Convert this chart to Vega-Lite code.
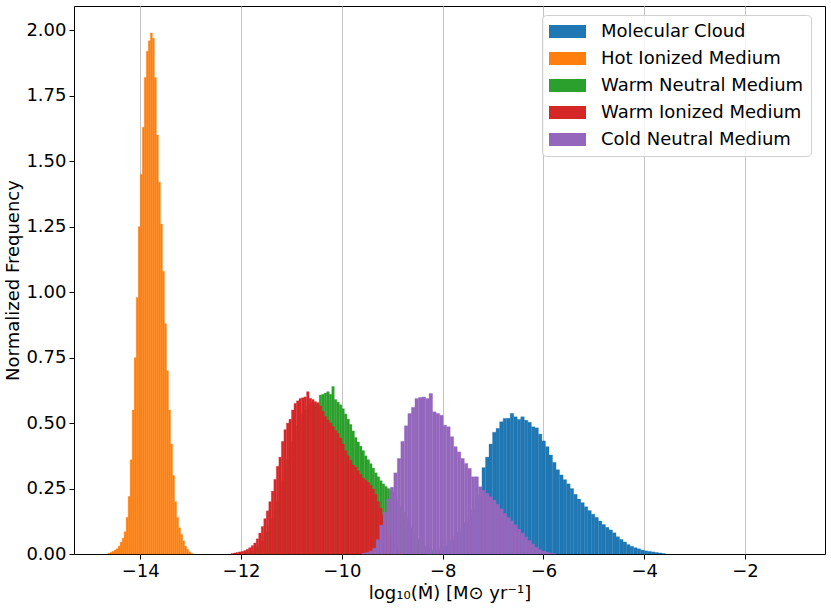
{
  "$schema": "https://vega.github.io/schema/vega-lite/v6.json",
  "width": 751,
  "height": 548,
  "autosize": {"type": "none"},
  "padding": {"left": 74, "top": 6, "right": 6, "bottom": 58},
  "data": {
    "values": [
      {"m":"MC","lo":-8.34,"hi":-8.27,"y":0.003},{"m":"MC","lo":-8.27,"hi":-8.20,"y":0.006},{"m":"MC","lo":-8.20,"hi":-8.13,"y":0.01},{"m":"MC","lo":-8.13,"hi":-8.06,"y":0.015},
      {"m":"MC","lo":-8.06,"hi":-7.99,"y":0.022},{"m":"MC","lo":-7.99,"hi":-7.92,"y":0.03},{"m":"MC","lo":-7.92,"hi":-7.85,"y":0.04},{"m":"MC","lo":-7.85,"hi":-7.78,"y":0.052},
      {"m":"MC","lo":-7.78,"hi":-7.71,"y":0.066},{"m":"MC","lo":-7.71,"hi":-7.64,"y":0.083},{"m":"MC","lo":-7.64,"hi":-7.57,"y":0.1},{"m":"MC","lo":-7.57,"hi":-7.50,"y":0.12},
      {"m":"MC","lo":-7.50,"hi":-7.43,"y":0.145},{"m":"MC","lo":-7.43,"hi":-7.36,"y":0.17},{"m":"MC","lo":-7.36,"hi":-7.29,"y":0.195},{"m":"MC","lo":-7.29,"hi":-7.22,"y":0.225},
      {"m":"MC","lo":-7.22,"hi":-7.15,"y":0.33},{"m":"MC","lo":-7.15,"hi":-7.08,"y":0.37},{"m":"MC","lo":-7.08,"hi":-7.01,"y":0.42},{"m":"MC","lo":-7.01,"hi":-6.94,"y":0.465},
      {"m":"MC","lo":-6.94,"hi":-6.87,"y":0.48},{"m":"MC","lo":-6.87,"hi":-6.80,"y":0.505},{"m":"MC","lo":-6.80,"hi":-6.73,"y":0.518},{"m":"MC","lo":-6.73,"hi":-6.66,"y":0.518},
      {"m":"MC","lo":-6.66,"hi":-6.59,"y":0.537},{"m":"MC","lo":-6.59,"hi":-6.52,"y":0.524},{"m":"MC","lo":-6.52,"hi":-6.45,"y":0.514},{"m":"MC","lo":-6.45,"hi":-6.38,"y":0.524},
      {"m":"MC","lo":-6.38,"hi":-6.31,"y":0.511},{"m":"MC","lo":-6.31,"hi":-6.24,"y":0.503},{"m":"MC","lo":-6.24,"hi":-6.17,"y":0.486},{"m":"MC","lo":-6.17,"hi":-6.10,"y":0.482},
      {"m":"MC","lo":-6.10,"hi":-6.03,"y":0.458},{"m":"MC","lo":-6.03,"hi":-5.96,"y":0.432},{"m":"MC","lo":-5.96,"hi":-5.89,"y":0.41},{"m":"MC","lo":-5.89,"hi":-5.82,"y":0.378},
      {"m":"MC","lo":-5.82,"hi":-5.75,"y":0.35},{"m":"MC","lo":-5.75,"hi":-5.68,"y":0.322},{"m":"MC","lo":-5.68,"hi":-5.61,"y":0.302},{"m":"MC","lo":-5.61,"hi":-5.54,"y":0.284},
      {"m":"MC","lo":-5.54,"hi":-5.47,"y":0.268},{"m":"MC","lo":-5.47,"hi":-5.40,"y":0.25},{"m":"MC","lo":-5.40,"hi":-5.33,"y":0.228},{"m":"MC","lo":-5.33,"hi":-5.26,"y":0.21},
      {"m":"MC","lo":-5.26,"hi":-5.19,"y":0.196},{"m":"MC","lo":-5.19,"hi":-5.12,"y":0.18},{"m":"MC","lo":-5.12,"hi":-5.05,"y":0.166},{"m":"MC","lo":-5.05,"hi":-4.98,"y":0.152},
      {"m":"MC","lo":-4.98,"hi":-4.91,"y":0.14},{"m":"MC","lo":-4.91,"hi":-4.84,"y":0.126},{"m":"MC","lo":-4.84,"hi":-4.77,"y":0.113},{"m":"MC","lo":-4.77,"hi":-4.70,"y":0.102},
      {"m":"MC","lo":-4.70,"hi":-4.63,"y":0.092},{"m":"MC","lo":-4.63,"hi":-4.56,"y":0.081},{"m":"MC","lo":-4.56,"hi":-4.49,"y":0.066},{"m":"MC","lo":-4.49,"hi":-4.42,"y":0.056},
      {"m":"MC","lo":-4.42,"hi":-4.35,"y":0.046},{"m":"MC","lo":-4.35,"hi":-4.28,"y":0.036},{"m":"MC","lo":-4.28,"hi":-4.21,"y":0.029},{"m":"MC","lo":-4.21,"hi":-4.14,"y":0.024},
      {"m":"MC","lo":-4.14,"hi":-4.07,"y":0.02},{"m":"MC","lo":-4.07,"hi":-4.00,"y":0.015},{"m":"MC","lo":-4.00,"hi":-3.93,"y":0.012},{"m":"MC","lo":-3.93,"hi":-3.86,"y":0.01},
      {"m":"MC","lo":-3.86,"hi":-3.79,"y":0.008},{"m":"MC","lo":-3.79,"hi":-3.72,"y":0.006},{"m":"MC","lo":-3.72,"hi":-3.65,"y":0.004},{"m":"MC","lo":-3.65,"hi":-3.58,"y":0.002},

      {"m":"HIM","lo":-14.64,"hi":-14.60,"y":0.003},{"m":"HIM","lo":-14.60,"hi":-14.56,"y":0.006},{"m":"HIM","lo":-14.56,"hi":-14.52,"y":0.01},{"m":"HIM","lo":-14.52,"hi":-14.48,"y":0.015},
      {"m":"HIM","lo":-14.48,"hi":-14.44,"y":0.02},{"m":"HIM","lo":-14.44,"hi":-14.40,"y":0.03},{"m":"HIM","lo":-14.40,"hi":-14.36,"y":0.045},{"m":"HIM","lo":-14.36,"hi":-14.32,"y":0.06},
      {"m":"HIM","lo":-14.32,"hi":-14.28,"y":0.085},{"m":"HIM","lo":-14.28,"hi":-14.24,"y":0.14},{"m":"HIM","lo":-14.24,"hi":-14.20,"y":0.22},{"m":"HIM","lo":-14.20,"hi":-14.16,"y":0.36},
      {"m":"HIM","lo":-14.16,"hi":-14.12,"y":0.55},{"m":"HIM","lo":-14.12,"hi":-14.08,"y":0.75},{"m":"HIM","lo":-14.08,"hi":-14.04,"y":0.98},{"m":"HIM","lo":-14.04,"hi":-14.00,"y":1.25},
      {"m":"HIM","lo":-14.00,"hi":-13.96,"y":1.45},{"m":"HIM","lo":-13.96,"hi":-13.92,"y":1.63},{"m":"HIM","lo":-13.92,"hi":-13.88,"y":1.82},{"m":"HIM","lo":-13.88,"hi":-13.84,"y":1.92},
      {"m":"HIM","lo":-13.84,"hi":-13.80,"y":1.96},{"m":"HIM","lo":-13.80,"hi":-13.76,"y":1.99},{"m":"HIM","lo":-13.76,"hi":-13.72,"y":1.97},{"m":"HIM","lo":-13.72,"hi":-13.68,"y":1.82},
      {"m":"HIM","lo":-13.68,"hi":-13.64,"y":1.6},{"m":"HIM","lo":-13.64,"hi":-13.60,"y":1.42},{"m":"HIM","lo":-13.60,"hi":-13.56,"y":1.26},{"m":"HIM","lo":-13.56,"hi":-13.52,"y":1.08},
      {"m":"HIM","lo":-13.52,"hi":-13.48,"y":0.88},{"m":"HIM","lo":-13.48,"hi":-13.44,"y":0.7},{"m":"HIM","lo":-13.44,"hi":-13.40,"y":0.55},{"m":"HIM","lo":-13.40,"hi":-13.36,"y":0.42},
      {"m":"HIM","lo":-13.36,"hi":-13.32,"y":0.3},{"m":"HIM","lo":-13.32,"hi":-13.28,"y":0.2},{"m":"HIM","lo":-13.28,"hi":-13.24,"y":0.14},{"m":"HIM","lo":-13.24,"hi":-13.20,"y":0.1},
      {"m":"HIM","lo":-13.20,"hi":-13.16,"y":0.075},{"m":"HIM","lo":-13.16,"hi":-13.12,"y":0.05},{"m":"HIM","lo":-13.12,"hi":-13.08,"y":0.03},{"m":"HIM","lo":-13.08,"hi":-13.04,"y":0.018},
      {"m":"HIM","lo":-13.04,"hi":-13.00,"y":0.008},{"m":"HIM","lo":-13.00,"hi":-12.96,"y":0.003},

      {"m":"WNM","lo":-11.90,"hi":-11.85,"y":0.005},{"m":"WNM","lo":-11.85,"hi":-11.80,"y":0.008},{"m":"WNM","lo":-11.80,"hi":-11.75,"y":0.012},{"m":"WNM","lo":-11.75,"hi":-11.70,"y":0.018},
      {"m":"WNM","lo":-11.70,"hi":-11.65,"y":0.026},{"m":"WNM","lo":-11.65,"hi":-11.60,"y":0.037},{"m":"WNM","lo":-11.60,"hi":-11.55,"y":0.05},{"m":"WNM","lo":-11.55,"hi":-11.50,"y":0.066},
      {"m":"WNM","lo":-11.50,"hi":-11.45,"y":0.085},{"m":"WNM","lo":-11.45,"hi":-11.40,"y":0.108},{"m":"WNM","lo":-11.40,"hi":-11.35,"y":0.135},{"m":"WNM","lo":-11.35,"hi":-11.30,"y":0.165},
      {"m":"WNM","lo":-11.30,"hi":-11.25,"y":0.2},{"m":"WNM","lo":-11.25,"hi":-11.20,"y":0.24},{"m":"WNM","lo":-11.20,"hi":-11.15,"y":0.28},{"m":"WNM","lo":-11.15,"hi":-11.10,"y":0.32},
      {"m":"WNM","lo":-11.10,"hi":-11.05,"y":0.36},{"m":"WNM","lo":-11.05,"hi":-11.00,"y":0.4},{"m":"WNM","lo":-11.00,"hi":-10.95,"y":0.43},{"m":"WNM","lo":-10.95,"hi":-10.90,"y":0.46},
      {"m":"WNM","lo":-10.90,"hi":-10.85,"y":0.49},{"m":"WNM","lo":-10.85,"hi":-10.80,"y":0.515},{"m":"WNM","lo":-10.80,"hi":-10.75,"y":0.535},{"m":"WNM","lo":-10.75,"hi":-10.70,"y":0.55},
      {"m":"WNM","lo":-10.70,"hi":-10.65,"y":0.565},{"m":"WNM","lo":-10.65,"hi":-10.60,"y":0.575},{"m":"WNM","lo":-10.60,"hi":-10.55,"y":0.58},{"m":"WNM","lo":-10.55,"hi":-10.50,"y":0.57},
      {"m":"WNM","lo":-10.50,"hi":-10.45,"y":0.57},{"m":"WNM","lo":-10.45,"hi":-10.40,"y":0.607},{"m":"WNM","lo":-10.40,"hi":-10.35,"y":0.61},{"m":"WNM","lo":-10.35,"hi":-10.30,"y":0.615},
      {"m":"WNM","lo":-10.30,"hi":-10.25,"y":0.62},{"m":"WNM","lo":-10.25,"hi":-10.20,"y":0.61},{"m":"WNM","lo":-10.20,"hi":-10.15,"y":0.64},{"m":"WNM","lo":-10.15,"hi":-10.10,"y":0.59},
      {"m":"WNM","lo":-10.10,"hi":-10.05,"y":0.58},{"m":"WNM","lo":-10.05,"hi":-10.00,"y":0.57},{"m":"WNM","lo":-10.00,"hi":-9.95,"y":0.555},{"m":"WNM","lo":-9.95,"hi":-9.90,"y":0.535},
      {"m":"WNM","lo":-9.90,"hi":-9.85,"y":0.515},{"m":"WNM","lo":-9.85,"hi":-9.80,"y":0.495},{"m":"WNM","lo":-9.80,"hi":-9.75,"y":0.47},{"m":"WNM","lo":-9.75,"hi":-9.70,"y":0.445},
      {"m":"WNM","lo":-9.70,"hi":-9.65,"y":0.428},{"m":"WNM","lo":-9.65,"hi":-9.60,"y":0.412},{"m":"WNM","lo":-9.60,"hi":-9.55,"y":0.395},{"m":"WNM","lo":-9.55,"hi":-9.50,"y":0.375},
      {"m":"WNM","lo":-9.50,"hi":-9.45,"y":0.36},{"m":"WNM","lo":-9.45,"hi":-9.40,"y":0.345},{"m":"WNM","lo":-9.40,"hi":-9.35,"y":0.328},{"m":"WNM","lo":-9.35,"hi":-9.30,"y":0.31},
      {"m":"WNM","lo":-9.30,"hi":-9.25,"y":0.295},{"m":"WNM","lo":-9.25,"hi":-9.20,"y":0.28},{"m":"WNM","lo":-9.20,"hi":-9.15,"y":0.268},{"m":"WNM","lo":-9.15,"hi":-9.10,"y":0.258},
      {"m":"WNM","lo":-9.10,"hi":-9.05,"y":0.25},{"m":"WNM","lo":-9.05,"hi":-9.00,"y":0.244},{"m":"WNM","lo":-9.00,"hi":-8.95,"y":0.238},{"m":"WNM","lo":-8.95,"hi":-8.90,"y":0.22},
      {"m":"WNM","lo":-8.90,"hi":-8.85,"y":0.2},{"m":"WNM","lo":-8.85,"hi":-8.80,"y":0.18},{"m":"WNM","lo":-8.80,"hi":-8.75,"y":0.16},{"m":"WNM","lo":-8.75,"hi":-8.70,"y":0.14},
      {"m":"WNM","lo":-8.70,"hi":-8.65,"y":0.12},{"m":"WNM","lo":-8.65,"hi":-8.60,"y":0.1},{"m":"WNM","lo":-8.60,"hi":-8.55,"y":0.085},{"m":"WNM","lo":-8.55,"hi":-8.50,"y":0.07},
      {"m":"WNM","lo":-8.50,"hi":-8.45,"y":0.058},{"m":"WNM","lo":-8.45,"hi":-8.40,"y":0.047},{"m":"WNM","lo":-8.40,"hi":-8.35,"y":0.038},{"m":"WNM","lo":-8.35,"hi":-8.30,"y":0.03},
      {"m":"WNM","lo":-8.30,"hi":-8.25,"y":0.023},{"m":"WNM","lo":-8.25,"hi":-8.20,"y":0.017},{"m":"WNM","lo":-8.20,"hi":-8.15,"y":0.012},{"m":"WNM","lo":-8.15,"hi":-8.10,"y":0.008},
      {"m":"WNM","lo":-8.10,"hi":-8.05,"y":0.005},

      {"m":"WIM","lo":-12.20,"hi":-12.15,"y":0.002},{"m":"WIM","lo":-12.15,"hi":-12.10,"y":0.004},{"m":"WIM","lo":-12.10,"hi":-12.05,"y":0.006},{"m":"WIM","lo":-12.05,"hi":-12.00,"y":0.008},
      {"m":"WIM","lo":-12.00,"hi":-11.95,"y":0.01},{"m":"WIM","lo":-11.95,"hi":-11.90,"y":0.013},{"m":"WIM","lo":-11.90,"hi":-11.85,"y":0.018},{"m":"WIM","lo":-11.85,"hi":-11.80,"y":0.024},
      {"m":"WIM","lo":-11.80,"hi":-11.75,"y":0.032},{"m":"WIM","lo":-11.75,"hi":-11.70,"y":0.042},{"m":"WIM","lo":-11.70,"hi":-11.65,"y":0.058},{"m":"WIM","lo":-11.65,"hi":-11.60,"y":0.08},
      {"m":"WIM","lo":-11.60,"hi":-11.55,"y":0.105},{"m":"WIM","lo":-11.55,"hi":-11.50,"y":0.135},{"m":"WIM","lo":-11.50,"hi":-11.45,"y":0.165},{"m":"WIM","lo":-11.45,"hi":-11.40,"y":0.2},
      {"m":"WIM","lo":-11.40,"hi":-11.35,"y":0.24},{"m":"WIM","lo":-11.35,"hi":-11.30,"y":0.285},{"m":"WIM","lo":-11.30,"hi":-11.25,"y":0.335},{"m":"WIM","lo":-11.25,"hi":-11.20,"y":0.37},
      {"m":"WIM","lo":-11.20,"hi":-11.15,"y":0.43},{"m":"WIM","lo":-11.15,"hi":-11.10,"y":0.475},{"m":"WIM","lo":-11.10,"hi":-11.05,"y":0.5},{"m":"WIM","lo":-11.05,"hi":-11.00,"y":0.515},
      {"m":"WIM","lo":-11.00,"hi":-10.95,"y":0.55},{"m":"WIM","lo":-10.95,"hi":-10.90,"y":0.575},{"m":"WIM","lo":-10.90,"hi":-10.85,"y":0.585},{"m":"WIM","lo":-10.85,"hi":-10.80,"y":0.594},
      {"m":"WIM","lo":-10.80,"hi":-10.75,"y":0.597},{"m":"WIM","lo":-10.75,"hi":-10.70,"y":0.6},{"m":"WIM","lo":-10.70,"hi":-10.65,"y":0.62},{"m":"WIM","lo":-10.65,"hi":-10.60,"y":0.595},
      {"m":"WIM","lo":-10.60,"hi":-10.55,"y":0.59},{"m":"WIM","lo":-10.55,"hi":-10.50,"y":0.582},{"m":"WIM","lo":-10.50,"hi":-10.45,"y":0.578},{"m":"WIM","lo":-10.45,"hi":-10.40,"y":0.565},
      {"m":"WIM","lo":-10.40,"hi":-10.35,"y":0.545},{"m":"WIM","lo":-10.35,"hi":-10.30,"y":0.525},{"m":"WIM","lo":-10.30,"hi":-10.25,"y":0.512},{"m":"WIM","lo":-10.25,"hi":-10.20,"y":0.5},
      {"m":"WIM","lo":-10.20,"hi":-10.15,"y":0.487},{"m":"WIM","lo":-10.15,"hi":-10.10,"y":0.472},{"m":"WIM","lo":-10.10,"hi":-10.05,"y":0.46},{"m":"WIM","lo":-10.05,"hi":-10.00,"y":0.443},
      {"m":"WIM","lo":-10.00,"hi":-9.95,"y":0.42},{"m":"WIM","lo":-9.95,"hi":-9.90,"y":0.395},{"m":"WIM","lo":-9.90,"hi":-9.85,"y":0.375},{"m":"WIM","lo":-9.85,"hi":-9.80,"y":0.358},
      {"m":"WIM","lo":-9.80,"hi":-9.75,"y":0.34},{"m":"WIM","lo":-9.75,"hi":-9.70,"y":0.332},{"m":"WIM","lo":-9.70,"hi":-9.65,"y":0.318},{"m":"WIM","lo":-9.65,"hi":-9.60,"y":0.305},
      {"m":"WIM","lo":-9.60,"hi":-9.55,"y":0.29},{"m":"WIM","lo":-9.55,"hi":-9.50,"y":0.282},{"m":"WIM","lo":-9.50,"hi":-9.45,"y":0.273},{"m":"WIM","lo":-9.45,"hi":-9.40,"y":0.262},
      {"m":"WIM","lo":-9.40,"hi":-9.35,"y":0.248},{"m":"WIM","lo":-9.35,"hi":-9.30,"y":0.228},{"m":"WIM","lo":-9.30,"hi":-9.25,"y":0.2},{"m":"WIM","lo":-9.25,"hi":-9.20,"y":0.175},
      {"m":"WIM","lo":-9.20,"hi":-9.15,"y":0.15},{"m":"WIM","lo":-9.15,"hi":-9.10,"y":0.125},{"m":"WIM","lo":-9.10,"hi":-9.05,"y":0.1},{"m":"WIM","lo":-9.05,"hi":-9.00,"y":0.075},
      {"m":"WIM","lo":-9.00,"hi":-8.95,"y":0.05},{"m":"WIM","lo":-8.95,"hi":-8.90,"y":0.03},{"m":"WIM","lo":-8.90,"hi":-8.85,"y":0.015},{"m":"WIM","lo":-8.85,"hi":-8.80,"y":0.006},

      {"m":"CNM","lo":-9.60,"hi":-9.53,"y":0.003},{"m":"CNM","lo":-9.53,"hi":-9.46,"y":0.006},{"m":"CNM","lo":-9.46,"hi":-9.39,"y":0.012},{"m":"CNM","lo":-9.39,"hi":-9.32,"y":0.022},
      {"m":"CNM","lo":-9.32,"hi":-9.25,"y":0.055},{"m":"CNM","lo":-9.25,"hi":-9.18,"y":0.11},{"m":"CNM","lo":-9.18,"hi":-9.11,"y":0.16},{"m":"CNM","lo":-9.11,"hi":-9.04,"y":0.21},
      {"m":"CNM","lo":-9.04,"hi":-8.97,"y":0.255},{"m":"CNM","lo":-8.97,"hi":-8.90,"y":0.31},{"m":"CNM","lo":-8.90,"hi":-8.83,"y":0.365},{"m":"CNM","lo":-8.83,"hi":-8.76,"y":0.43},
      {"m":"CNM","lo":-8.76,"hi":-8.69,"y":0.49},{"m":"CNM","lo":-8.69,"hi":-8.62,"y":0.537},{"m":"CNM","lo":-8.62,"hi":-8.55,"y":0.56},{"m":"CNM","lo":-8.55,"hi":-8.48,"y":0.594},
      {"m":"CNM","lo":-8.48,"hi":-8.41,"y":0.598},{"m":"CNM","lo":-8.41,"hi":-8.34,"y":0.6},{"m":"CNM","lo":-8.34,"hi":-8.27,"y":0.594},{"m":"CNM","lo":-8.27,"hi":-8.20,"y":0.613},
      {"m":"CNM","lo":-8.20,"hi":-8.13,"y":0.543},{"m":"CNM","lo":-8.13,"hi":-8.06,"y":0.537},{"m":"CNM","lo":-8.06,"hi":-7.99,"y":0.53},{"m":"CNM","lo":-7.99,"hi":-7.92,"y":0.492},
      {"m":"CNM","lo":-7.92,"hi":-7.85,"y":0.486},{"m":"CNM","lo":-7.85,"hi":-7.78,"y":0.448},{"m":"CNM","lo":-7.78,"hi":-7.71,"y":0.41},{"m":"CNM","lo":-7.71,"hi":-7.64,"y":0.39},
      {"m":"CNM","lo":-7.64,"hi":-7.57,"y":0.365},{"m":"CNM","lo":-7.57,"hi":-7.50,"y":0.346},{"m":"CNM","lo":-7.50,"hi":-7.43,"y":0.327},{"m":"CNM","lo":-7.43,"hi":-7.36,"y":0.295},
      {"m":"CNM","lo":-7.36,"hi":-7.29,"y":0.295},{"m":"CNM","lo":-7.29,"hi":-7.22,"y":0.257},{"m":"CNM","lo":-7.22,"hi":-7.15,"y":0.244},{"m":"CNM","lo":-7.15,"hi":-7.08,"y":0.232},
      {"m":"CNM","lo":-7.08,"hi":-7.01,"y":0.219},{"m":"CNM","lo":-7.01,"hi":-6.94,"y":0.206},{"m":"CNM","lo":-6.94,"hi":-6.87,"y":0.19},{"m":"CNM","lo":-6.87,"hi":-6.80,"y":0.172},
      {"m":"CNM","lo":-6.80,"hi":-6.73,"y":0.155},{"m":"CNM","lo":-6.73,"hi":-6.66,"y":0.14},{"m":"CNM","lo":-6.66,"hi":-6.59,"y":0.127},{"m":"CNM","lo":-6.59,"hi":-6.52,"y":0.112},
      {"m":"CNM","lo":-6.52,"hi":-6.45,"y":0.095},{"m":"CNM","lo":-6.45,"hi":-6.38,"y":0.08},{"m":"CNM","lo":-6.38,"hi":-6.31,"y":0.066},{"m":"CNM","lo":-6.31,"hi":-6.24,"y":0.052},
      {"m":"CNM","lo":-6.24,"hi":-6.17,"y":0.038},{"m":"CNM","lo":-6.17,"hi":-6.10,"y":0.026},{"m":"CNM","lo":-6.10,"hi":-6.03,"y":0.017},{"m":"CNM","lo":-6.03,"hi":-5.96,"y":0.011},
      {"m":"CNM","lo":-5.96,"hi":-5.89,"y":0.007},{"m":"CNM","lo":-5.89,"hi":-5.82,"y":0.004},{"m":"CNM","lo":-5.82,"hi":-5.75,"y":0.002}
    ]
  },
  "mark": {"type": "rect", "strokeWidth": 0.3},
  "encoding": {
    "x": {
      "field": "lo",
      "type": "quantitative",
      "scale": {"domain": [-15.315, -0.413], "nice": false, "zero": false},
      "axis": {
        "values": [-14, -12, -10, -8, -6, -4, -2],
        "grid": true,
        "title": "log₁₀(Ṁ) [M⊙ yr⁻¹]",
        "titlePadding": 4
      }
    },
    "x2": {"field": "hi"},
    "y": {
      "field": "y",
      "type": "quantitative",
      "scale": {"domain": [0, 2.093], "nice": false},
      "axis": {
        "values": [0, 0.25, 0.5, 0.75, 1, 1.25, 1.5, 1.75, 2],
        "format": ".2f",
        "grid": false,
        "title": "Normalized Frequency",
        "titlePadding": 3
      }
    },
    "y2": {"datum": 0},
    "stroke": {
      "field": "m",
      "type": "nominal",
      "scale": {
        "domain": ["MC", "HIM", "WNM", "WIM", "CNM"],
        "range": ["#1f77b4", "#ff7f0e", "#2ca02c", "#d62728", "#9467bd"]
      },
      "legend": null
    },
    "color": {
      "field": "m",
      "type": "nominal",
      "sort": null,
      "scale": {
        "domain": ["MC", "HIM", "WNM", "WIM", "CNM"],
        "range": ["#1f77b4", "#ff7f0e", "#2ca02c", "#d62728", "#9467bd"]
      },
      "legend": {
        "title": null,
        "orient": "none",
        "legendX": 468,
        "legendY": 9,
        "padding": 7,
        "fillColor": "rgba(255,255,255,0.8)",
        "strokeColor": "#d0d0d0",
        "cornerRadius": 4,
        "symbolType": "M-1,-0.35H1V0.35H-1Z",
        "symbolSize": 1369,
        "symbolStrokeWidth": 0,
        "symbolOpacity": 1,
        "clipHeight": 19,
        "rowPadding": 8,
        "labelFontSize": 18,
        "labelOffset": 15,
        "labelLimit": 0,
        "labelColor": "black",
        "labelExpr": "datum.label == 'MC' ? 'Molecular Cloud' : datum.label == 'HIM' ? 'Hot Ionized Medium' : datum.label == 'WNM' ? 'Warm Neutral Medium' : datum.label == 'WIM' ? 'Warm Ionized Medium' : 'Cold Neutral Medium'"
      }
    }
  },
  "config": {
    "font": "DejaVu Sans",
    "view": {"stroke": "black", "strokeWidth": 1},
    "axis": {
      "zindex": 1,
      "domain": false,
      "gridColor": "#c4c4c4",
      "gridWidth": 1,
      "tickColor": "black",
      "tickSize": 5,
      "tickWidth": 1,
      "labelFontSize": 18,
      "labelColor": "black",
      "labelPadding": 3,
      "titleFontSize": 18,
      "titleFontWeight": "normal",
      "titleColor": "black"
    }
  }
}
